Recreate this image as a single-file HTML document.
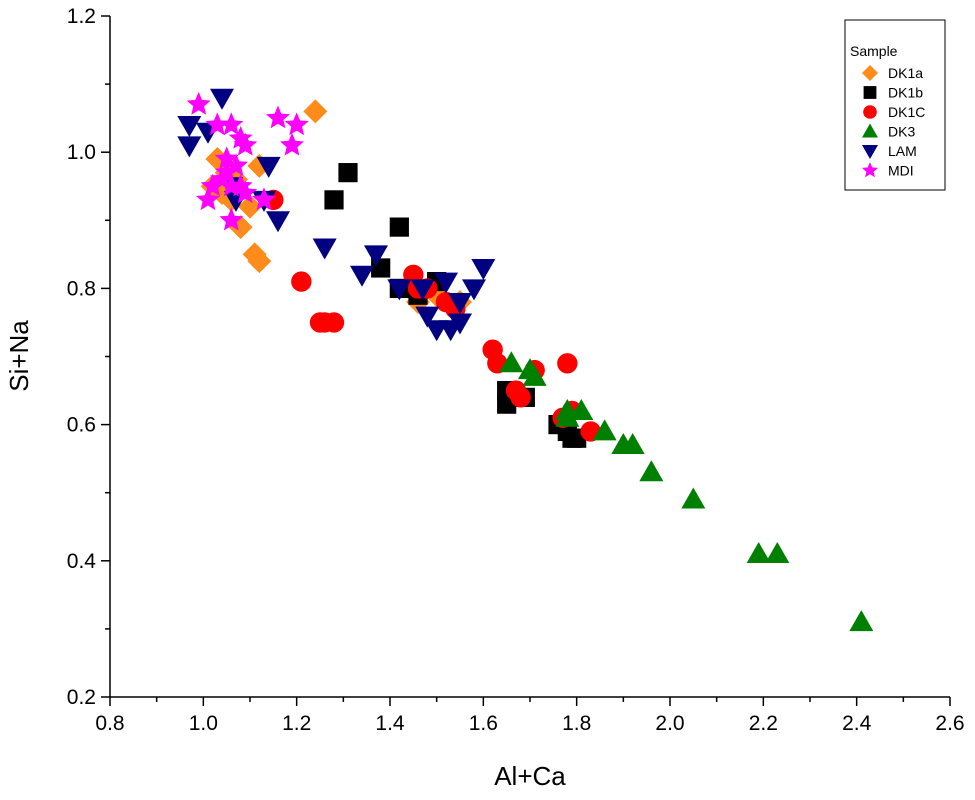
<!DOCTYPE html>
<html><head><meta charset="utf-8"><style>body{margin:0;background:#fff}svg{display:block;font-family:"Liberation Sans",Arial,sans-serif}</style></head>
<body>
<svg id="chart" width="975" height="800"></svg>
<script>
const xTicks=[0.8,1.0,1.2,1.4,1.6,1.8,2.0,2.2,2.4,2.6];
const yTicks=[0.2,0.4,0.6,0.8,1.0,1.2];
const seriesNames=["DK1a","DK1b","DK1C","DK3","LAM","MDI"];
const dk1a=[[1.24,1.06],[1.03,0.99],[1.05,0.97],[1.12,0.98],[1.02,0.95],[1.04,0.94],[1.06,0.93],[1.10,0.92],[1.08,0.89],[1.11,0.85],[1.12,0.84],[1.46,0.78],[1.55,0.78],[1.50,0.79],[1.07,0.96]];
const dk1b=[[1.31,0.97],[1.28,0.93],[1.42,0.89],[1.38,0.83],[1.42,0.80],[1.46,0.79],[1.50,0.81],[1.65,0.63],[1.69,0.64],[1.65,0.65],[1.76,0.60],[1.78,0.59],[1.79,0.58],[1.80,0.58]];
const dk1c=[[1.15,0.93],[1.21,0.81],[1.25,0.75],[1.28,0.75],[1.26,0.75],[1.45,0.82],[1.48,0.80],[1.46,0.80],[1.52,0.78],[1.54,0.77],[1.62,0.71],[1.63,0.69],[1.67,0.65],[1.68,0.64],[1.71,0.68],[1.78,0.69],[1.77,0.61],[1.79,0.62],[1.83,0.59]];
const dk3=[[1.66,0.69],[1.70,0.68],[1.71,0.67],[1.78,0.62],[1.81,0.62],[1.78,0.61],[1.86,0.59],[1.90,0.57],[1.92,0.57],[1.96,0.53],[2.05,0.49],[2.19,0.41],[2.23,0.41],[2.41,0.31]];
const lam=[[1.04,1.08],[0.97,1.04],[0.97,1.01],[1.01,1.03],[1.14,0.98],[1.16,0.90],[1.07,0.93],[1.13,0.93],[1.26,0.86],[1.37,0.85],[1.34,0.82],[1.42,0.80],[1.47,0.80],[1.52,0.81],[1.60,0.83],[1.58,0.80],[1.55,0.78],[1.48,0.76],[1.50,0.74],[1.53,0.74],[1.55,0.75],[1.06,0.95]];
const mdi=[[0.99,1.07],[1.03,1.04],[1.06,1.04],[1.08,1.02],[1.09,1.01],[1.16,1.05],[1.20,1.04],[1.19,1.01],[1.05,0.99],[1.07,0.98],[1.04,0.96],[1.02,0.95],[1.06,0.95],[1.08,0.95],[1.09,0.94],[1.01,0.93],[1.13,0.93],[1.06,0.90],[1.05,0.97]];

const NS="http://www.w3.org/2000/svg",svg=document.getElementById('chart');
const X0=110,X1=950,Y0=697,Y1=16;
const xs=v=>X0+(v-0.8)/1.8*(X1-X0), ys=v=>Y0-(v-0.2)/1.0*(Y0-Y1);
function mk(t,a,p){const e=document.createElementNS(NS,t);for(const k in a)e.setAttribute(k,a[k]);(p||svg).appendChild(e);return e;}
const colors=["#ff8c1a","#000","#ff0000","#008000","#000080","#ff00ff"];
function star(cx,cy,r){let p=[];for(let i=0;i<10;i++){const a=-Math.PI/2+i*Math.PI/5,rr=i%2?r*0.45:r;p.push((cx+rr*Math.cos(a)).toFixed(1)+","+(cy+rr*Math.sin(a)).toFixed(1));}return p.join(" ");}
function marker(k,cx,cy,s,g){const c=colors[k];let e;
 if(k==0)e=mk('polygon',{points:`${cx},${cy-s} ${cx+s},${cy} ${cx},${cy+s} ${cx-s},${cy}`,fill:c},g);
 else if(k==1)e=mk('rect',{x:cx-s*0.8,y:cy-s*0.8,width:s*1.6,height:s*1.6,fill:c},g);
 else if(k==2)e=mk('circle',{cx:cx,cy:cy,r:s*0.85,fill:c},g);
 else if(k==3)e=mk('polygon',{points:`${cx},${cy-s} ${cx+s},${cy+s*0.75} ${cx-s},${cy+s*0.75}`,fill:c},g);
 else if(k==4)e=mk('polygon',{points:`${cx},${cy+s} ${cx+s},${cy-s*0.75} ${cx-s},${cy-s*0.75}`,fill:c},g);
 else e=mk('polygon',{points:star(cx,cy,s*1.05),fill:c},g);
 return e;}
const ax=mk('g',{});
mk('line',{x1:X0,y1:Y1,x2:X0,y2:Y0,stroke:'#000','stroke-width':1.5},ax);
mk('line',{x1:X0,y1:Y0,x2:X1,y2:Y0,stroke:'#000','stroke-width':1.5},ax);
xTicks.forEach((t,i)=>{const x=xs(t);mk('line',{x1:x,y1:Y0,x2:x,y2:Y0+9,stroke:'#000','stroke-width':1.5},ax);
 if(i<xTicks.length-1){const xm=xs(t+0.1);mk('line',{x1:xm,y1:Y0,x2:xm,y2:Y0+5,stroke:'#000','stroke-width':1.5},ax);}
 const l=mk('text',{x:x,y:Y0+33,'font-size':21,'text-anchor':'middle'},ax);l.textContent=t.toFixed(1);});
yTicks.forEach((t,i)=>{const y=ys(t);mk('line',{x1:X0-9,y1:y,x2:X0,y2:y,stroke:'#000','stroke-width':1.5},ax);
 if(i<yTicks.length-1){const ym=ys(t+0.1);mk('line',{x1:X0-5,y1:ym,x2:X0,y2:ym,stroke:'#000','stroke-width':1.5},ax);}
 const l=mk('text',{x:X0-14,y:y+7,'font-size':21,'text-anchor':'end'},ax);l.textContent=t.toFixed(1);});
let t=mk('text',{x:530,y:785,'font-size':26,'text-anchor':'middle'});t.textContent='Al+Ca';
t=mk('text',{x:28,y:356,'font-size':26,'text-anchor':'middle',transform:'rotate(-90 28 356)'});t.textContent='Si+Na';
const all=[dk1a,dk1b,dk1c,dk3,lam,mdi];
all.forEach((d,k)=>{const g=mk('g',{});
 d.forEach(p=>{const e=marker(k,xs(p[0]),ys(p[1]),12,g);});});
const lg=mk('g',{});
mk('rect',{x:845,y:20,width:100,height:170,fill:'#fff',stroke:'#000','stroke-width':1},lg);
t=mk('text',{x:850,y:56,'font-size':14},lg);t.textContent='Sample';
seriesNames.forEach((n,k)=>{const y=73+k*19.5;const e=marker(k,870,y,8,lg);
 const l=mk('text',{x:888,y:y+5,'font-size':14},lg);l.textContent=n;});
</script>
</body></html>
